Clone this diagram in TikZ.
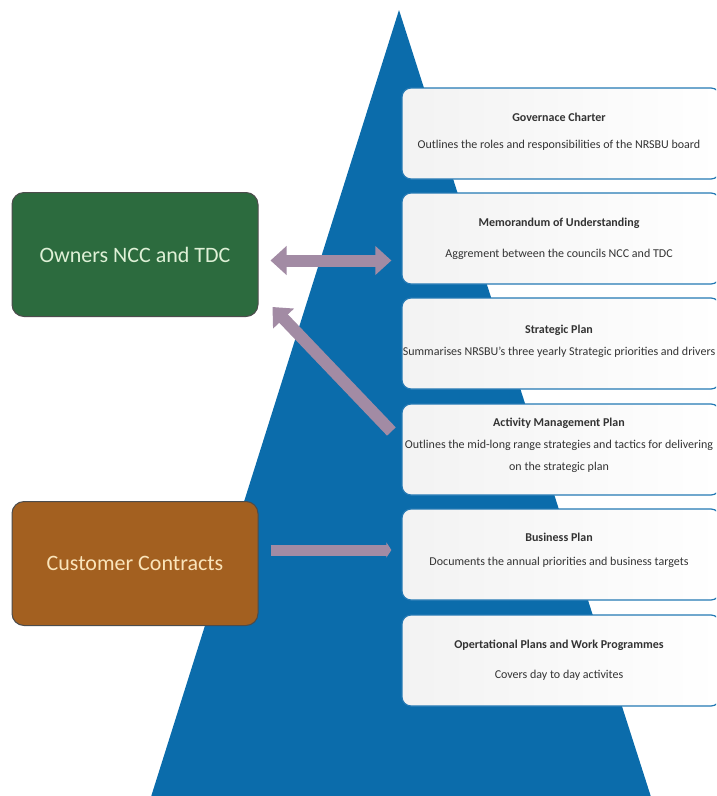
\documentclass[tikz,border=0pt]{standalone}
\usepackage{fontspec}
\setmainfont{Carlito}
\usetikzlibrary{arrows.meta, calc}
\definecolor{pyramidblue}{RGB}{11,108,171}
\definecolor{planedge}{RGB}{36,121,180}
\definecolor{ownergreen}{RGB}{44,107,62}
\definecolor{ownertext}{RGB}{222,240,214}
\definecolor{contractbrown}{RGB}{163,96,32}
\definecolor{contracttext}{RGB}{250,228,186}
\definecolor{linkmauve}{RGB}{162,139,164}
\tikzset{
planBox/.style={draw=planedge, line width=1.2pt, rounded corners=9pt,
    left color=black!5, right color=white, minimum width=318pt,
    minimum height=91pt, inner sep=0pt},
planText/.style={text=black!80, font=\fontsize{12}{22}\selectfont, align=center, inner sep=0pt},
partyBox/.style={draw=black!70, line width=1pt, rounded corners=12pt,
    minimum width=246pt, minimum height=124pt, font=\fontsize{22}{26}\selectfont},
linkMe/.style={draw=linkmauve, line width=12pt, -{Triangle[width=28pt,length=16pt]}}
}
\begin{document}
\begin{tikzpicture}[x=1pt,y=-1pt]
    \useasboundingbox (0,0) rectangle (716,796);
    \clip (0,0) rectangle (716,796);
    \coordinate (apex) at (399,10);
    \coordinate (baseL) at (150,800);
    \coordinate (baseR) at (652,800);
    \fill[pyramidblue] (apex) -- (baseL) -- (baseR) -- cycle;

    \node[planBox] (gov) at (561,133.5) {};
    \node[planText] (govText) at ([xshift=-2pt,yshift=2pt]gov.center)
        {\textbf{Governace Charter}\\[5pt]Outlines the roles and responsibilities of the NRSBU board};
    \node[planBox] (mou) at (561,238.5) {};
    \node[planText] (mouText) at ([xshift=-2pt]mou.center)
        {\textbf{Memorandum of Understanding}\\[9pt]Aggrement between the councils NCC and TDC};
    \node[planBox] (strat) at (561,343.5) {};
    \node[planText] (stratText) at ([xshift=-2pt,yshift=2.5pt]strat.center)
        {\textbf{Strategic Plan}\\[0pt]Summarises NRSBU's three yearly Strategic priorities and drivers};
    \node[planBox] (amp) at (561,449.5) {};
    \node[planText] (ampText) at ([xshift=-2pt,yshift=4.5pt]amp.center)
        {\textbf{Activity Management Plan}\\Outlines the mid-long range strategies and tactics for delivering\\on the strategic plan};
    \node[planBox] (biz) at (561,554.5) {};
    \node[planText] (bizText) at ([xshift=-2pt,yshift=4.5pt]biz.center)
        {\textbf{Business Plan}\\[2pt]Documents the annual priorities and business targets};
    \node[planBox] (ops) at (561,660.5) {};
    \node[planText] (opsText) at ([xshift=-2pt]ops.center)
        {\textbf{Opertational Plans and Work Programmes}\\[8pt]Covers day to day activites};

    \node[partyBox, fill=ownergreen, text=ownertext] (owners) at (135,254.5) {Owners NCC and TDC};
    \node[partyBox, fill=contractbrown, text=contracttext] (customer) at (135,563.5) {Customer Contracts};

    \draw[linkMe, {Triangle[width=28pt,length=16pt]}-{Triangle[width=28pt,length=16pt]}]
        ([shift={(12,6)}]owners.east) -- ([shift={(-10,22)}]mou.west);
    \draw[linkMe] ([shift={(-10,-18)}]amp.west) -- ([shift={(14,-10)}]owners.south east);
    \draw[linkMe, line width=11pt, -{Triangle[width=15pt,length=5pt]}]
        ([shift={(12,-13.5)}]customer.east) -- ([shift={(-10,-4.5)}]biz.west);
\end{tikzpicture}
\end{document}
